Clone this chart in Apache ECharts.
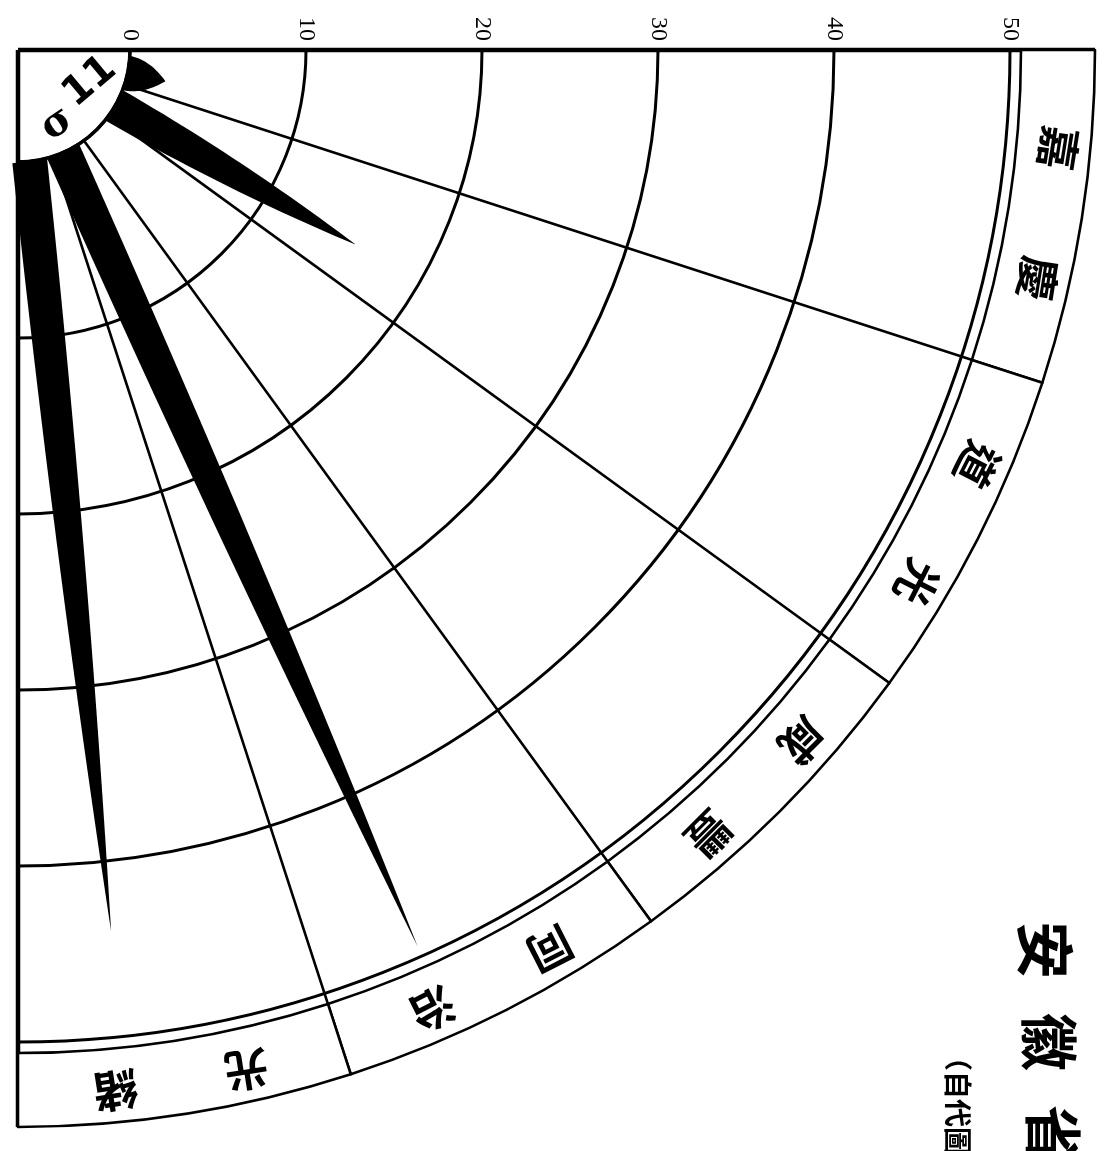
<!DOCTYPE html>
<html>
<head>
<meta charset="utf-8">
<style>
  html, body { margin: 0; padding: 0; background: #fff; }
  #chart { width: 1107px; height: 1151px; }
</style>
<script src="https://cdn.jsdelivr.net/npm/echarts@6/dist/echarts.min.js"></script>
</head>
<body>
<div id="chart"></div>
<script>
// ---- data ----
const categories = ['嘉慶', '道光', '咸豐', '同治', '光緒'];
const values = [2.2, 15.8, 0, 49.4, 44.0];
const radiusTicks = [0, 10, 20, 30, 40, 50];
const titleText = '安徽省';
const subtitleText = '（自代圖';
const holeMarks = ['11', 'σ'];

// ---- layout / style constants ----
const CX = 18, CY = 50;
const R_IN = 112, R_50 = 992, R_RING_IN = 1003, R_OUT = 1077;
const SPIKE_SHIFT = 0.165;     // spike offset inside its reign sector (sector units)
const SPIKE_BASE = 35;         // spike base width in px
const CJK = '"Noto Sans CJK TC", "Noto Sans CJK SC", sans-serif';
const nCat = categories.length;
const SECTOR_DEG = 90 / nCat;

const chart = echarts.init(document.getElementById('chart'), null, { renderer: 'canvas' });

function hiddenAngle(polarIndex, extra) {
  return Object.assign({
    polarIndex: polarIndex, type: 'value', min: 0, max: nCat, interval: 1,
    startAngle: 0, endAngle: -90, clockwise: true,
    axisLine: { show: false }, axisTick: { show: false }, axisLabel: { show: false },
    splitLine: { show: false }
  }, extra || {});
}

const option = {
  backgroundColor: '#ffffff',
  animation: false,
  polar: [
    { center: [CX, CY], radius: [R_IN, R_50] },
    { center: [CX, CY], radius: [R_IN, R_OUT] },
    { center: [CX, CY], radius: [0, R_OUT] },
    { center: [CX, CY], radius: [0, R_IN] }
  ],
  angleAxis: [
    hiddenAngle(0),
    hiddenAngle(1, { splitLine: { show: true, lineStyle: { color: '#000', width: 2.6 } } }),
    hiddenAngle(2, { interval: nCat, splitLine: { show: true, lineStyle: { color: '#000', width: 4.5 } } }),
    hiddenAngle(3, { axisLine: { show: true, lineStyle: { color: '#000', width: 3.5 } } })
  ],
  radiusAxis: [
    {
      polarIndex: 0, type: 'value',
      min: radiusTicks[0], max: radiusTicks[radiusTicks.length - 1],
      interval: radiusTicks[1] - radiusTicks[0],
      axisLine: { show: false },
      axisTick: { show: false },
      axisLabel: {
        rotate: -90, margin: 9, color: '#000', fontSize: 24,
        fontFamily: '"Liberation Serif", serif',
        formatter: function (v) { return radiusTicks.indexOf(v) >= 0 ? String(v) : ''; }
      },
      splitLine: { show: true, lineStyle: { color: '#000', width: 3 } }
    },
    { polarIndex: 1, type: 'value', min: 0, max: 1, show: false },
    { polarIndex: 2, type: 'value', min: 0, max: 1, show: false },
    { polarIndex: 3, type: 'value', min: 0, max: 1, show: false }
  ],
  series: [
    {
      type: 'custom',
      coordinateSystem: 'polar',
      polarIndex: 0,
      clip: false,
      silent: true,
      data: values.map(function (v, i) { return [v, i + 0.5 + SPIKE_SHIFT]; }),
      renderItem: function (params, api) {
        const v = api.value(0), a = api.value(1);
        if (!v) return null;
        const base = api.coord([0, a]);
        const tip = api.coord([v, a]);
        const dx = tip[0] - base[0], dy = tip[1] - base[1];
        const len = Math.sqrt(dx * dx + dy * dy);
        const ux = dx / len, uy = dy / len;
        const nx = -uy, ny = ux;
        const left = [], right = [];
        const steps = 24;
        for (let k = 0; k <= steps; k++) {
          const t = k / steps;
          const w = SPIKE_BASE * (1 - t * t) / 2;
          const px = base[0] + dx * t, py = base[1] + dy * t;
          left.push([px + nx * w, py + ny * w]);
          right.push([px - nx * w, py - ny * w]);
        }
        const pts = left.concat(right.reverse());
        return { type: 'polygon', shape: { points: pts }, style: { fill: '#000' } };
      }
    },
    {
      type: 'pie',
      center: [CX, CY],
      radius: [R_RING_IN, R_OUT],
      startAngle: 0,
      endAngle: -90,
      clockwise: true,
      silent: true,
      avoidLabelOverlap: false,
      labelLine: { show: false },
      itemStyle: { color: '#ffffff', borderColor: '#000', borderWidth: 2.6 },
      label: {
        show: true, position: 'inside', color: '#000',
        fontSize: 44, fontWeight: 'bold', fontFamily: CJK,
        formatter: function (p) { return p.name.split('').join('\u3000\u3000'); }
      },
      data: categories.map(function (c, i) {
        return { value: 1, name: c, label: { rotate: -(90 + (i + 0.5) * SECTOR_DEG) } };
      })
    }
  ],
  graphic: [].concat(
    titleText.split('').map(function (ch, i) {
      return {
        type: 'text', x: 1045 + i * 4, y: 950 + i * 92, rotation: -Math.PI / 2, silent: true,
        style: { text: ch, fill: '#000', font: 'bold 58px ' + CJK, textAlign: 'center', textVerticalAlign: 'middle' }
      };
    }),
    [{
      type: 'text', x: 958, y: 1043, rotation: -Math.PI / 2, silent: true,
      style: { text: subtitleText, fill: '#000', font: 'bold 28px ' + CJK, textAlign: 'left', textVerticalAlign: 'middle' }
    },
    {
      type: 'text', x: 90, y: 82, rotation: 0.7, silent: true,
      style: { text: holeMarks[0], fill: '#000', font: 'bold 40px "DejaVu Sans", sans-serif', textAlign: 'center', textVerticalAlign: 'middle' }
    },
    {
      type: 'text', x: 57, y: 124, rotation: 0.6, silent: true,
      style: { text: holeMarks[1], fill: '#000', font: 'bold 40px "DejaVu Serif", serif', textAlign: 'center', textVerticalAlign: 'middle' }
    }]
  )
};

chart.setOption(option);
</script>
</body>
</html>
